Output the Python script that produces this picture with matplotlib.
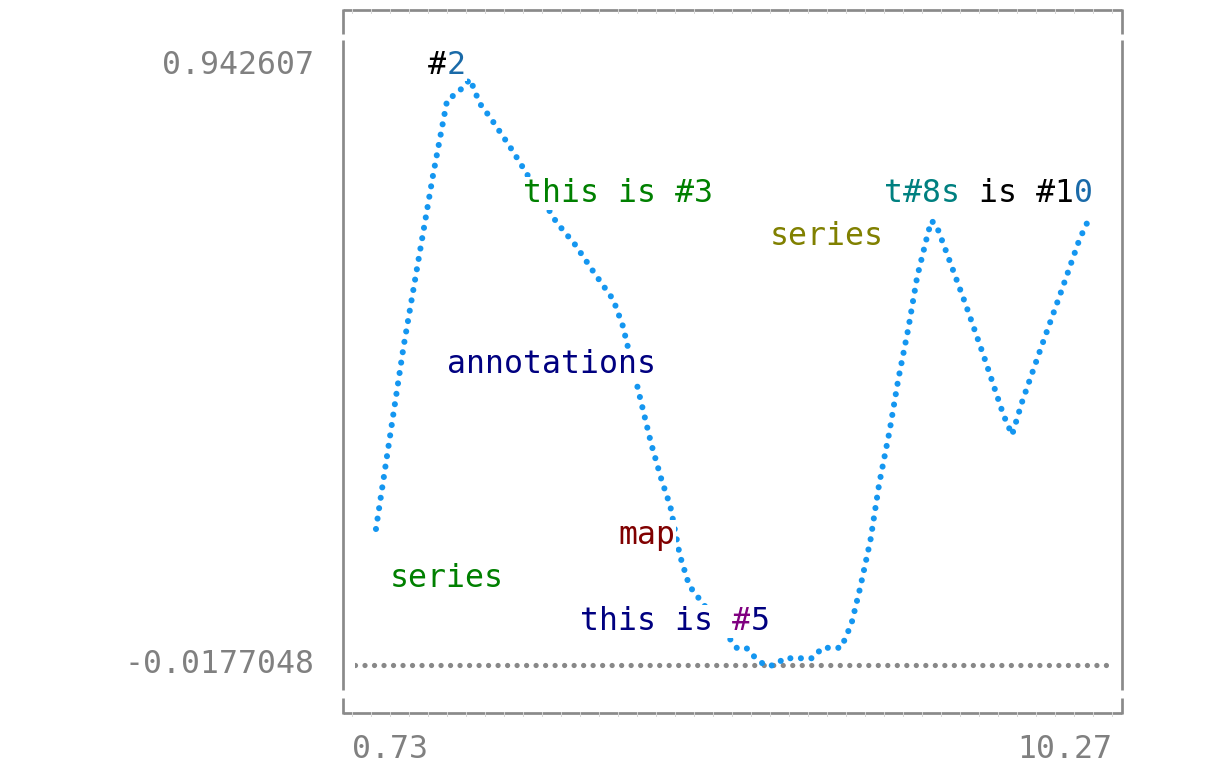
import matplotlib
matplotlib.use("Agg")
import matplotlib.pyplot as plt
from matplotlib.lines import Line2D

# curve
curve_x = [1.00, 1.35, 1.72, 1.90, 2.04, 2.19, 2.31, 2.44, 2.68, 2.80, 3.28, 3.52,
           3.76, 4.00, 4.12, 4.36, 4.48, 4.61, 4.72, 4.84, 4.96, 5.56, 5.68, 5.80,
           5.92, 6.04, 6.16, 6.52, 6.64, 6.88, 7.01, 7.12, 7.25, 7.36, 7.49, 7.60,
           7.73, 7.84, 7.97, 8.02, 8.08, 8.21, 8.45, 8.69, 8.93, 9.04, 9.17, 9.41,
           9.65, 9.89, 10.00]
curve_y = [0.209, 0.489, 0.750, 0.866, 0.878, 0.898, 0.861, 0.840, 0.797, 0.774,
           0.679, 0.644, 0.601, 0.560, 0.520, 0.399, 0.339, 0.284, 0.244, 0.169,
           0.122, 0.027, 0.027, 0.011, 0.0, 0.0, 0.011, 0.011, 0.027, 0.027,
           0.064, 0.119, 0.192, 0.278, 0.358, 0.437, 0.517, 0.595, 0.659, 0.681,
           0.675, 0.633, 0.554, 0.471, 0.384, 0.353, 0.405, 0.488, 0.569, 0.652,
           0.681]

x_range = [0.73, 10.27]
y_range = [-0.0177048, 0.942607]
x_labels = ["0.73", "10.27"]
y_labels = ["0.942607", "-0.0177048"]

W, H = 1216, 768
fig = plt.figure(figsize=(W / 100, H / 100), dpi=100)


def fx(px):
    return px / W


def fy(py):
    return 1 - py / H


# plot area (pixels, top-left origin)
left, right, top, bottom = 354.6, 1109.4, 50, 677
ax = fig.add_axes([fx(left), fy(bottom), fx(right) - fx(left), (bottom - top) / H])
ax.set_xlim(*x_range)
ax.set_ylim(*y_range)
ax.axis("off")

# dotted axis line and dotted curve
dot_lw = 4.4
ax.axhline(0, color="#888888", lw=3.8, linestyle=(0, (0.001, 1.8)),
           dash_capstyle="round", zorder=1)
ax.plot(curve_x, curve_y, color="#1496f0", lw=dot_lw, linestyle=(0, (0.001, 1.72)),
        dash_capstyle="round", zorder=2)

# frame made of box-drawing pieces
gray = "#8a8a8a"
frame_lw = 1.95
segs = [((343, 10), (1122, 10)), ((343, 713), (1122, 713))]
for xx in (343, 1122):
    segs += [((xx, 9), (xx, 34)), ((xx, 40), (xx, 690)), ((xx, 698), (xx, 714))]
for (x0, y0), (x1, y1) in segs:
    fig.add_artist(Line2D([fx(x0), fx(x1)], [fy(y0), fy(y1)], color=gray,
                          lw=frame_lw, solid_capstyle="butt"))
for k in range(41):
    xx = 352 + 19 * k
    for yy in (10, 713):
        fig.add_artist(Line2D([fx(xx), fx(xx)], [fy(yy - 1.3), fy(yy + 2.5)],
                              color="#d6d6d6", lw=0.7))

# text on a character grid
CW = 19.0
FS = 22.7
x0_grid = 352


def baseline(row):
    return 73.6 + (row - 1) * 42.8


def put(col, row, segments, mask=True):
    x = x0_grid + col * CW
    for text, color in segments:
        kw = dict(color=color, fontsize=FS, family="DejaVu Sans Mono",
                  ha="left", va="baseline", zorder=5)
        if mask:
            kw["bbox"] = dict(fc="white", ec="none", pad=0.5)
        fig.text(fx(x), fy(baseline(row)), text, **kw)
        x += len(text) * CW


blue_digit = "#1a6aa8"
put(4, 1, [("#", "black"), ("2", blue_digit)])
put(9, 4, [("this is #3", "#008000")])
put(28, 4, [("t#8s", "#008080"), (" is #1", "black"), ("0", blue_digit)])
put(22, 5, [("series", "#808000")])
put(5, 8, [("annotations", "#000080")])
put(14, 12, [("map", "#800000")])
put(2, 13, [("series", "#008000")])
put(12, 14, [("this is ", "#000080"), ("#", "#800080"), ("5", "#000080")])

# axis labels
put(-2 - len(y_labels[0]), 1, [(y_labels[0], "#808080")], mask=False)
put(-2 - len(y_labels[1]), 15, [(y_labels[1], "#808080")], mask=False)
put(0, 17, [(x_labels[0], "#808080")], mask=False)
put(40 - len(x_labels[1]), 17, [(x_labels[1], "#808080")], mask=False)

fig.savefig("out.png", dpi=100, facecolor="white")
